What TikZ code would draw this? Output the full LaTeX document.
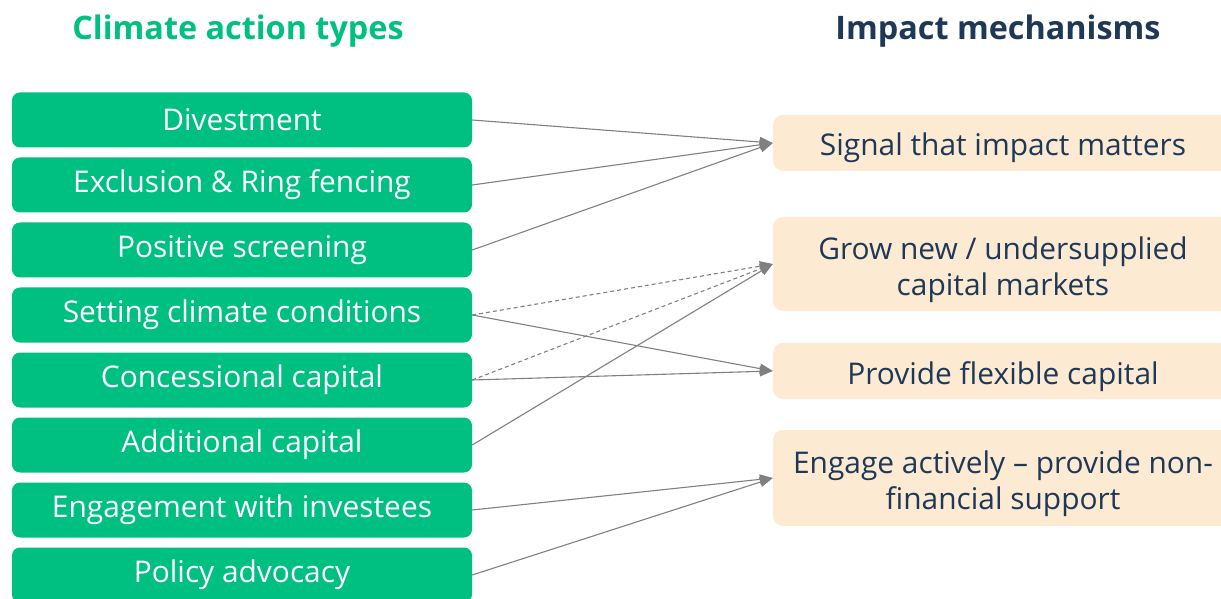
\documentclass[tikz,border=0pt]{standalone}
\usepackage{fontspec}
\setmainfont{Open Sans}
\usetikzlibrary{arrows.meta}
\definecolor{cgreen}{HTML}{00C081}
\definecolor{cpeach}{HTML}{FDEAD3}
\definecolor{cnavy}{HTML}{1E3858}
\definecolor{cgray}{HTML}{808080}
\tikzset{
  actbox/.style={fill=cgreen, rounded corners=8bp, minimum width=460bp, minimum height=55bp,
    text=white, font=\fontsize{30}{34}\selectfont, inner sep=0pt},
  mechbox/.style={fill=cpeach, rounded corners=10bp, minimum width=460bp,
    text=cnavy, font=\fontsize{30}{36}\selectfont, inner sep=0pt, align=center},
  oneline/.style={text height=33bp, text depth=7bp},
  twoline/.style={text height=69bp, text depth=7bp},
  link/.style={draw=cgray, line width=1.1bp, -{Triangle[length=13bp,width=10bp]}},
  dlink/.style={link, dashed, dash pattern=on 4bp off 3bp},
  title/.style={font=\bfseries\fontsize{32.5}{36}\selectfont}
}
\begin{document}
\begin{tikzpicture}[x=1bp,y=-1bp]
\useasboundingbox (0,0) rectangle (1221,599);
\node[title, text=cgreen] (t1) at (238,31) {Climate action types};
\node[title, text=cnavy] (t2) at (998,31) {Impact mechanisms};
\node[actbox] (l1) at (242,120) {Divestment};
\node[actbox] (l2) at (242,185) {Exclusion \& Ring fencing};
\node[actbox] (l3) at (242,250) {Positive screening};
\node[actbox] (l4) at (242,315) {Setting climate conditions};
\node[actbox] (l5) at (242,380) {Concessional capital};
\node[actbox] (l6) at (242,445) {Additional capital};
\node[actbox] (l7) at (242,510) {Engagement with investees};
\node[actbox] (l8) at (242,575) {Policy advocacy};
\node[mechbox, oneline, minimum height=56bp] (rA) at (1003,143) {Signal that impact matters};
\node[mechbox, twoline, minimum height=94bp] (rB) at (1003,264) {Grow new / undersupplied\\capital markets};
\node[mechbox, oneline, minimum height=56bp] (rC) at (1003,371) {Provide flexible capital};
\node[mechbox, twoline, minimum height=96bp] (rD) at (1003,478) {Engage actively -- provide non-\\financial support};
\draw[link] (l1.east) -- (rA.west);
\draw[link] (l2.east) -- (rA.west);
\draw[link] (l3.east) -- (rA.west);
\draw[dlink] (l4.east) -- (rB.west);
\draw[link] (l4.east) -- (rC.west);
\draw[dlink] (l5.east) -- (rB.west);
\draw[link] (l5.east) -- (rC.west);
\draw[link] (l6.east) -- (rB.west);
\draw[link] (l7.east) -- (rD.west);
\draw[link] (l8.east) -- (rD.west);
\end{tikzpicture}
\end{document}
